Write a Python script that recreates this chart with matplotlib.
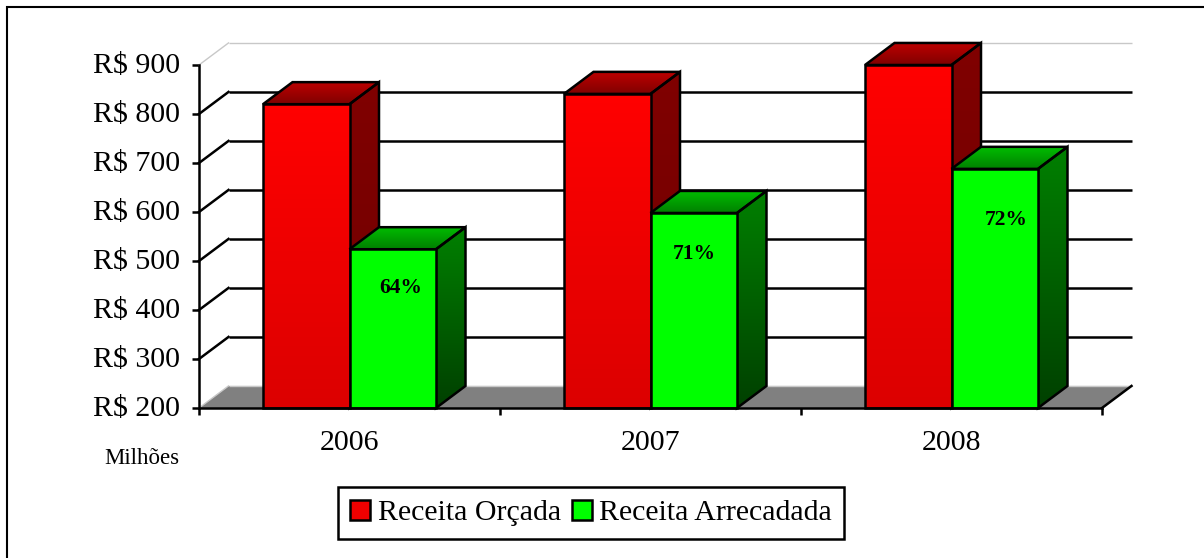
import numpy as np
import matplotlib
matplotlib.use("Agg")
import matplotlib.pyplot as plt
from matplotlib.lines import Line2D
from matplotlib.patches import Patch, Polygon
from matplotlib.transforms import ScaledTranslation

# -----------------------------
# DATA
# -----------------------------
YEARS = ["2006", "2007", "2008"]
ORCADA = [820, 841, 900]
ARRECADADA = [524, 598, 688]
PERCENT = ["64%", "71%", "72%"]
Y_TICKS = [200, 300, 400, 500, 600, 700, 800, 900]

# -----------------------------
# LAYOUT (pixels of the 1204x558 picture)
# -----------------------------
W, H = 1204, 558
AX_LEFT, AX_RIGHT = 199, 1102
AX_TOP, AX_BOTTOM = 65, 408
BAR_W = 86.5 / 301
DX = 29.5 / 301      # depth of the fake 3d, x units
DY = 45              # depth of the fake 3d, y units
LINE = 1.8
FONT = "Liberation Serif"
LABEL_SHIFT_X = [8, 1, 11]      # px, the labels are not centred on the bars
LABEL_SHIFT_Y = [-39, -41, -51]


def gradient_poly(ax, pts, top_color, bottom_color, zorder):
    # polygon filled with a vertical gradient, black outline on top
    xs = [p[0] for p in pts]
    ys = [p[1] for p in pts]
    c0 = np.array(matplotlib.colors.to_rgb(top_color))
    c1 = np.array(matplotlib.colors.to_rgb(bottom_color))
    t = np.linspace(0, 1, 64)[:, None, None]
    img = c0[None, None, :] * (1 - t) + c1[None, None, :] * t
    im = ax.imshow(img, extent=(min(xs), max(xs), min(ys), max(ys)), origin="upper",
                   aspect="auto", zorder=zorder)
    clip = Polygon(pts, closed=True, transform=ax.transData, facecolor="none", edgecolor="none")
    ax.add_patch(clip)
    clip.set_clip_on(False)
    im.set_clip_path(clip)
    # the 3d faces go above the axes box
    im.set_clip_box(ax.figure.bbox)
    ax.add_patch(Polygon(pts, closed=True, facecolor="none", edgecolor="black",
                         linewidth=LINE, zorder=zorder + 0.1, clip_on=False, joinstyle="miter"))


def draw_bar(ax, x0, value, colors, zorder):
    x1 = x0 + BAR_W
    gradient_poly(ax, [(x1, 200), (x1 + DX, 200 + DY), (x1 + DX, value + DY), (x1, value)],
                  colors["side_top"], colors["side_bottom"], zorder)
    gradient_poly(ax, [(x0, value), (x1, value), (x1 + DX, value + DY), (x0 + DX, value + DY)],
                  colors["top_back"], colors["top_front"], zorder)
    gradient_poly(ax, [(x0, 200), (x1, 200), (x1, value), (x0, value)],
                  colors["front_top"], colors["front_bottom"], zorder + 1)


RED = {"front_top": "#ff0000", "front_bottom": "#dc0000", "side_top": "#800000",
       "side_bottom": "#700000", "top_back": "#bf0000", "top_front": "#800000"}
GREEN = {"front_top": "#00ff00", "front_bottom": "#00ff00", "side_top": "#008000",
         "side_bottom": "#004000", "top_back": "#00bf00", "top_front": "#008000"}


def main():
    fig = plt.figure(figsize=(W / 100, H / 100), dpi=100, facecolor="white")

    # outer frame, only the top and left edges are inside the picture
    fig.add_artist(Line2D([7 / W, 7 / W, 1], [0, 1 - 6.5 / H, 1 - 6.5 / H], color="black",
                          linewidth=1.5, solid_joinstyle="miter"))

    ax = fig.add_axes([AX_LEFT / W, 1 - AX_BOTTOM / H, (AX_RIGHT - AX_LEFT) / W, (AX_BOTTOM - AX_TOP) / H])
    ax.set_xlim(-0.5, 2.5)
    ax.set_ylim(200, 900)
    ax.patch.set_visible(False)

    # floor
    ax.add_patch(Polygon([(-0.5, 200), (2.5, 200), (2.5 + DX, 200 + DY), (-0.5 + DX, 200 + DY)],
                         closed=True, facecolor="#808080", edgecolor="none", zorder=1, clip_on=False))

    # grid on the back wall and the side wall
    for v in Y_TICKS:
        edge = v in (200, 900)
        color = "#c8c8c8" if edge else "black"
        lw = 1.0 if edge else LINE
        ax.plot([-0.5 + DX, 2.5 + DX], [v + DY, v + DY], color=color, lw=lw, zorder=2,
                clip_on=False, solid_capstyle="butt")
        ax.plot([-0.5, -0.5 + DX], [v, v + DY], color=color, lw=lw, zorder=2, clip_on=False)
    ax.plot([2.5, 2.5 + DX], [200, 200 + DY], color="black", lw=LINE, zorder=2, clip_on=False)

    # bars, left to right so the nearer faces cover the older ones
    for i in range(len(YEARS)):
        draw_bar(ax, i - BAR_W, ORCADA[i], RED, 3 + i * 2)
        draw_bar(ax, i, ARRECADADA[i], GREEN, 4 + i * 2)
        ax.annotate(PERCENT[i], xy=(i + BAR_W / 2, ARRECADADA[i]),
                    xytext=(LABEL_SHIFT_X[i], LABEL_SHIFT_Y[i]), textcoords="offset pixels",
                    ha="center", va="center", family=FONT, fontsize=15.5, fontweight="bold",
                    color="black", zorder=20)

    ax.set_xlim(-0.5, 2.5)
    ax.set_ylim(200, 900)

    # axes
    for side in ("top", "right"):
        ax.spines[side].set_visible(False)
    for side in ("left", "bottom"):
        ax.spines[side].set_linewidth(LINE)
        ax.spines[side].set_zorder(15)
    ax.set_yticks(Y_TICKS)
    ax.set_yticklabels([f"R$ {v}" for v in Y_TICKS], family=FONT, fontsize=21.5)
    ax.set_xticks([-0.5, 0.5, 1.5, 2.5])
    ax.set_xticklabels([])
    ax.set_xticks([0, 1, 2], labels=YEARS, minor=True, family=FONT, fontsize=21.5)
    ax.tick_params(axis="y", length=5, width=LINE, pad=8.5)
    ax.tick_params(axis="x", which="major", length=5, width=LINE)
    ax.tick_params(axis="x", which="minor", length=0, pad=16)
    up = ScaledTranslation(0, 2 / 100, fig.dpi_scale_trans)
    for lab in ax.get_yticklabels():
        lab.set_transform(lab.get_transform() + up)

    fig.text(141.5 / W, 1 - 458 / H, "Milh\u00f5es", family=FONT, fontsize=16.5,
             ha="center", va="center")

    handles = [Patch(facecolor="#f00000", edgecolor="black", linewidth=LINE),
               Patch(facecolor="#00ff00", edgecolor="black", linewidth=LINE)]
    leg = fig.legend(handles, ["Receita Or\u00e7ada", "Receita Arrecadada"], ncol=2,
                     loc="center", bbox_to_anchor=(591 / W, 1 - 513 / H),
                     prop={"family": FONT, "size": 21.5}, frameon=True, fancybox=False,
                     edgecolor="black", framealpha=1, handlelength=0.67, handleheight=0.7,
                     handletextpad=0.25, columnspacing=0.36, borderpad=0.42, borderaxespad=0)
    leg.get_frame().set_linewidth(LINE)

    fig.savefig("out.png", dpi=100)


if __name__ == "__main__":
    main()
